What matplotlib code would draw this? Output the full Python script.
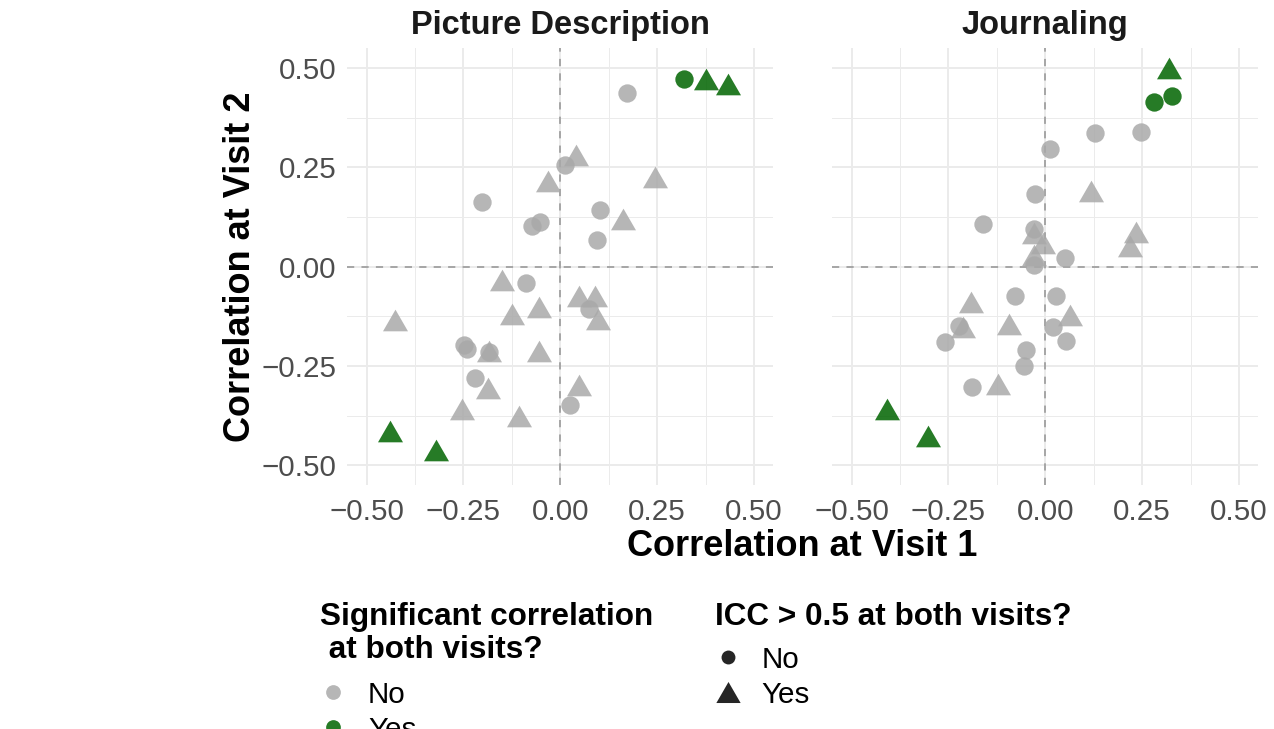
import matplotlib
matplotlib.use('Agg')
import matplotlib.pyplot as plt
from matplotlib.path import Path
from matplotlib.markers import MarkerStyle
import numpy as np

plt.rcParams['font.family'] = ['Liberation Sans', 'DejaVu Sans']

# ---- data: correlation at visit 1 / visit 2 per feature ----
# Picture Description
pd_x = [0.319, 0.375, 0.434, -0.441, -0.322,
        0.172, 0.013, -0.201, -0.052, -0.072, 0.103, 0.094, -0.088, 0.073,
        -0.248, -0.241, -0.183, -0.219, 0.025,
        0.041, -0.033, 0.244, 0.162, -0.150, 0.049, 0.090, 0.097, -0.054,
        -0.124, -0.427, -0.185, -0.056, -0.186, 0.047, -0.253, -0.106]
pd_y = [0.473, 0.472, 0.460, -0.413, -0.463,
        0.437, 0.257, 0.164, 0.112, 0.103, 0.142, 0.067, -0.042, -0.106,
        -0.198, -0.207, -0.216, -0.281, -0.348,
        0.282, 0.217, 0.227, 0.121, -0.033, -0.074, -0.075, -0.132, -0.101,
        -0.119, -0.134, -0.213, -0.213, -0.306, -0.298, -0.358, -0.376]
pd_sig = ['Yes'] * 5 + ['No'] * 31
pd_icc = ['No', 'Yes', 'Yes', 'Yes', 'Yes'] + ['No'] * 14 + ['Yes'] * 17

# Journaling
jr_x = [0.319, 0.280, 0.328, -0.410, -0.304,
        0.128, 0.246, 0.013, -0.026, -0.161, -0.028, -0.030, 0.050, -0.078,
        0.028, -0.222, 0.020, -0.259, 0.054, -0.050, -0.056, -0.188,
        0.117, -0.030, -0.006, 0.233, 0.218, -0.030, -0.192, 0.063, -0.213,
        -0.095, -0.121]
jr_y = [0.501, 0.415, 0.430, -0.358, -0.427,
        0.337, 0.338, 0.296, 0.183, 0.107, 0.094, 0.004, 0.021, -0.073,
        -0.075, -0.149, -0.151, -0.191, -0.187, -0.209, -0.251, -0.303,
        0.191, 0.084, 0.060, 0.087, 0.053, 0.029, -0.090, -0.122, -0.151,
        -0.145, -0.296]
jr_sig = ['Yes'] * 5 + ['No'] * 28
jr_icc = ['Yes', 'No', 'No', 'Yes', 'Yes'] + ['No'] * 17 + ['Yes'] * 11

panels = [('Picture Description', pd_x, pd_y, pd_sig, pd_icc),
          ('Journaling', jr_x, jr_y, jr_sig, jr_icc)]

ticks = [-0.50, -0.25, 0.00, 0.25, 0.50]
tick_labels = ['\u22120.50', '\u22120.25', '0.00', '0.25', '0.50']

sig_colors = {'No': '#A9A9A9', 'Yes': '#006400'}
ALPHA = 0.85

# equilateral triangle like R's pch 17
tri = MarkerStyle(Path([(0, 1), (1.1547, -1), (-1.1547, -1), (0, 1)],
                       [Path.MOVETO, Path.LINETO, Path.LINETO, Path.CLOSEPOLY]))
icc_markers = {'No': 'o', 'Yes': tri}
icc_sizes = {'No': 13.2 ** 2, 'Yes': 18.0 ** 2}

W, H = 1274, 729
fig = plt.figure(figsize=(W / 100, H / 100), dpi=100)

def fx(x):
    return x / W

def fy(y):
    return 1 - y / H

lefts = [347.3, 832.3]
top, bottom, width = 48.3, 485.0, 426.0

for i, (title, xs, ys, sig, icc) in enumerate(panels):
    ax = fig.add_axes([fx(lefts[i]), fy(bottom), width / W, (bottom - top) / H])
    ax.set_xlim(-0.55, 0.55)
    ax.set_ylim(-0.55, 0.55)
    for s in ax.spines.values():
        s.set_visible(False)
    ax.set_xticks(ticks)
    ax.set_xticklabels(tick_labels)
    ax.set_yticks(ticks)
    ax.set_yticklabels(tick_labels if i == 0 else [])
    ax.set_xticks([-0.375, -0.125, 0.125, 0.375], minor=True)
    ax.set_yticks([-0.375, -0.125, 0.125, 0.375], minor=True)
    ax.tick_params(which='both', length=0)
    ax.tick_params(axis='both', labelsize=21.3, labelcolor='#4D4D4D')
    ax.tick_params(axis='x', pad=9)
    ax.tick_params(axis='y', pad=8)
    ax.grid(which='major', color='#EBEBEB', lw=1.4)
    ax.grid(which='minor', color='#EBEBEB', lw=0.7)
    ax.set_axisbelow(True)
    ax.axhline(0, color='#A0A0A0', lw=1.3, ls=(0, (4, 4)), zorder=1.5)
    ax.axvline(0, color='#A0A0A0', lw=1.3, ls=(0, (4, 4)), zorder=1.5)

    xs = np.array(xs)
    ys = np.array(ys)
    sig = np.array(sig)
    icc = np.array(icc)
    for s_key in ['No', 'Yes']:
        for i_key in ['No', 'Yes']:
            m = (sig == s_key) & (icc == i_key)
            if m.any():
                ax.scatter(xs[m], ys[m], s=icc_sizes[i_key], marker=icc_markers[i_key],
                           color=sig_colors[s_key], alpha=ALPHA, linewidths=0, zorder=3)

    fig.text(fx(lefts[i] + width / 2), fy(34), title, ha='center', va='baseline',
             fontsize=23.5, fontweight='bold', color='#1A1A1A')

# axis titles
fig.text(fx(802.5), fy(556), 'Correlation at Visit 1', ha='center', va='baseline',
         fontsize=26, fontweight='bold')
fig.text(fx(250), fy(266.7), 'Correlation at Visit 2', ha='center', va='baseline',
         rotation=90, rotation_mode='anchor', fontsize=26, fontweight='bold')

# legends (drawn on an overlay in pixel coordinates)
lax = fig.add_axes([0, 0, 1, 1])
lax.set_xlim(0, W)
lax.set_ylim(H, 0)
lax.axis('off')

lax.text(320, 625, 'Significant correlation', ha='left', va='baseline',
         fontsize=22.7, fontweight='bold')
lax.text(320, 658, ' at both visits?', ha='left', va='baseline',
         fontsize=22.7, fontweight='bold')
for j, key in enumerate(['No', 'Yes']):
    yy = 691.7 + j * 35
    lax.scatter([333.3], [yy], s=10.6 ** 2, marker='o', color=sig_colors[key],
                alpha=ALPHA, linewidths=0)
    lax.text(368, yy, key, ha='left', va='center_baseline', fontsize=21.3)

lax.text(715, 625, 'ICC > 0.5 at both visits?', ha='left', va='baseline',
         fontsize=22.7, fontweight='bold')
for j, key in enumerate(['No', 'Yes']):
    yy = 656.7 + j * 35
    size = 10.0 ** 2 if key == 'No' else 17.5 ** 2
    lax.scatter([728.3], [yy], s=size, marker=icc_markers[key], color='black',
                alpha=ALPHA, linewidths=0)
    lax.text(761.7, yy, key, ha='left', va='center_baseline', fontsize=21.3)

plt.savefig('out.png', dpi=100)
